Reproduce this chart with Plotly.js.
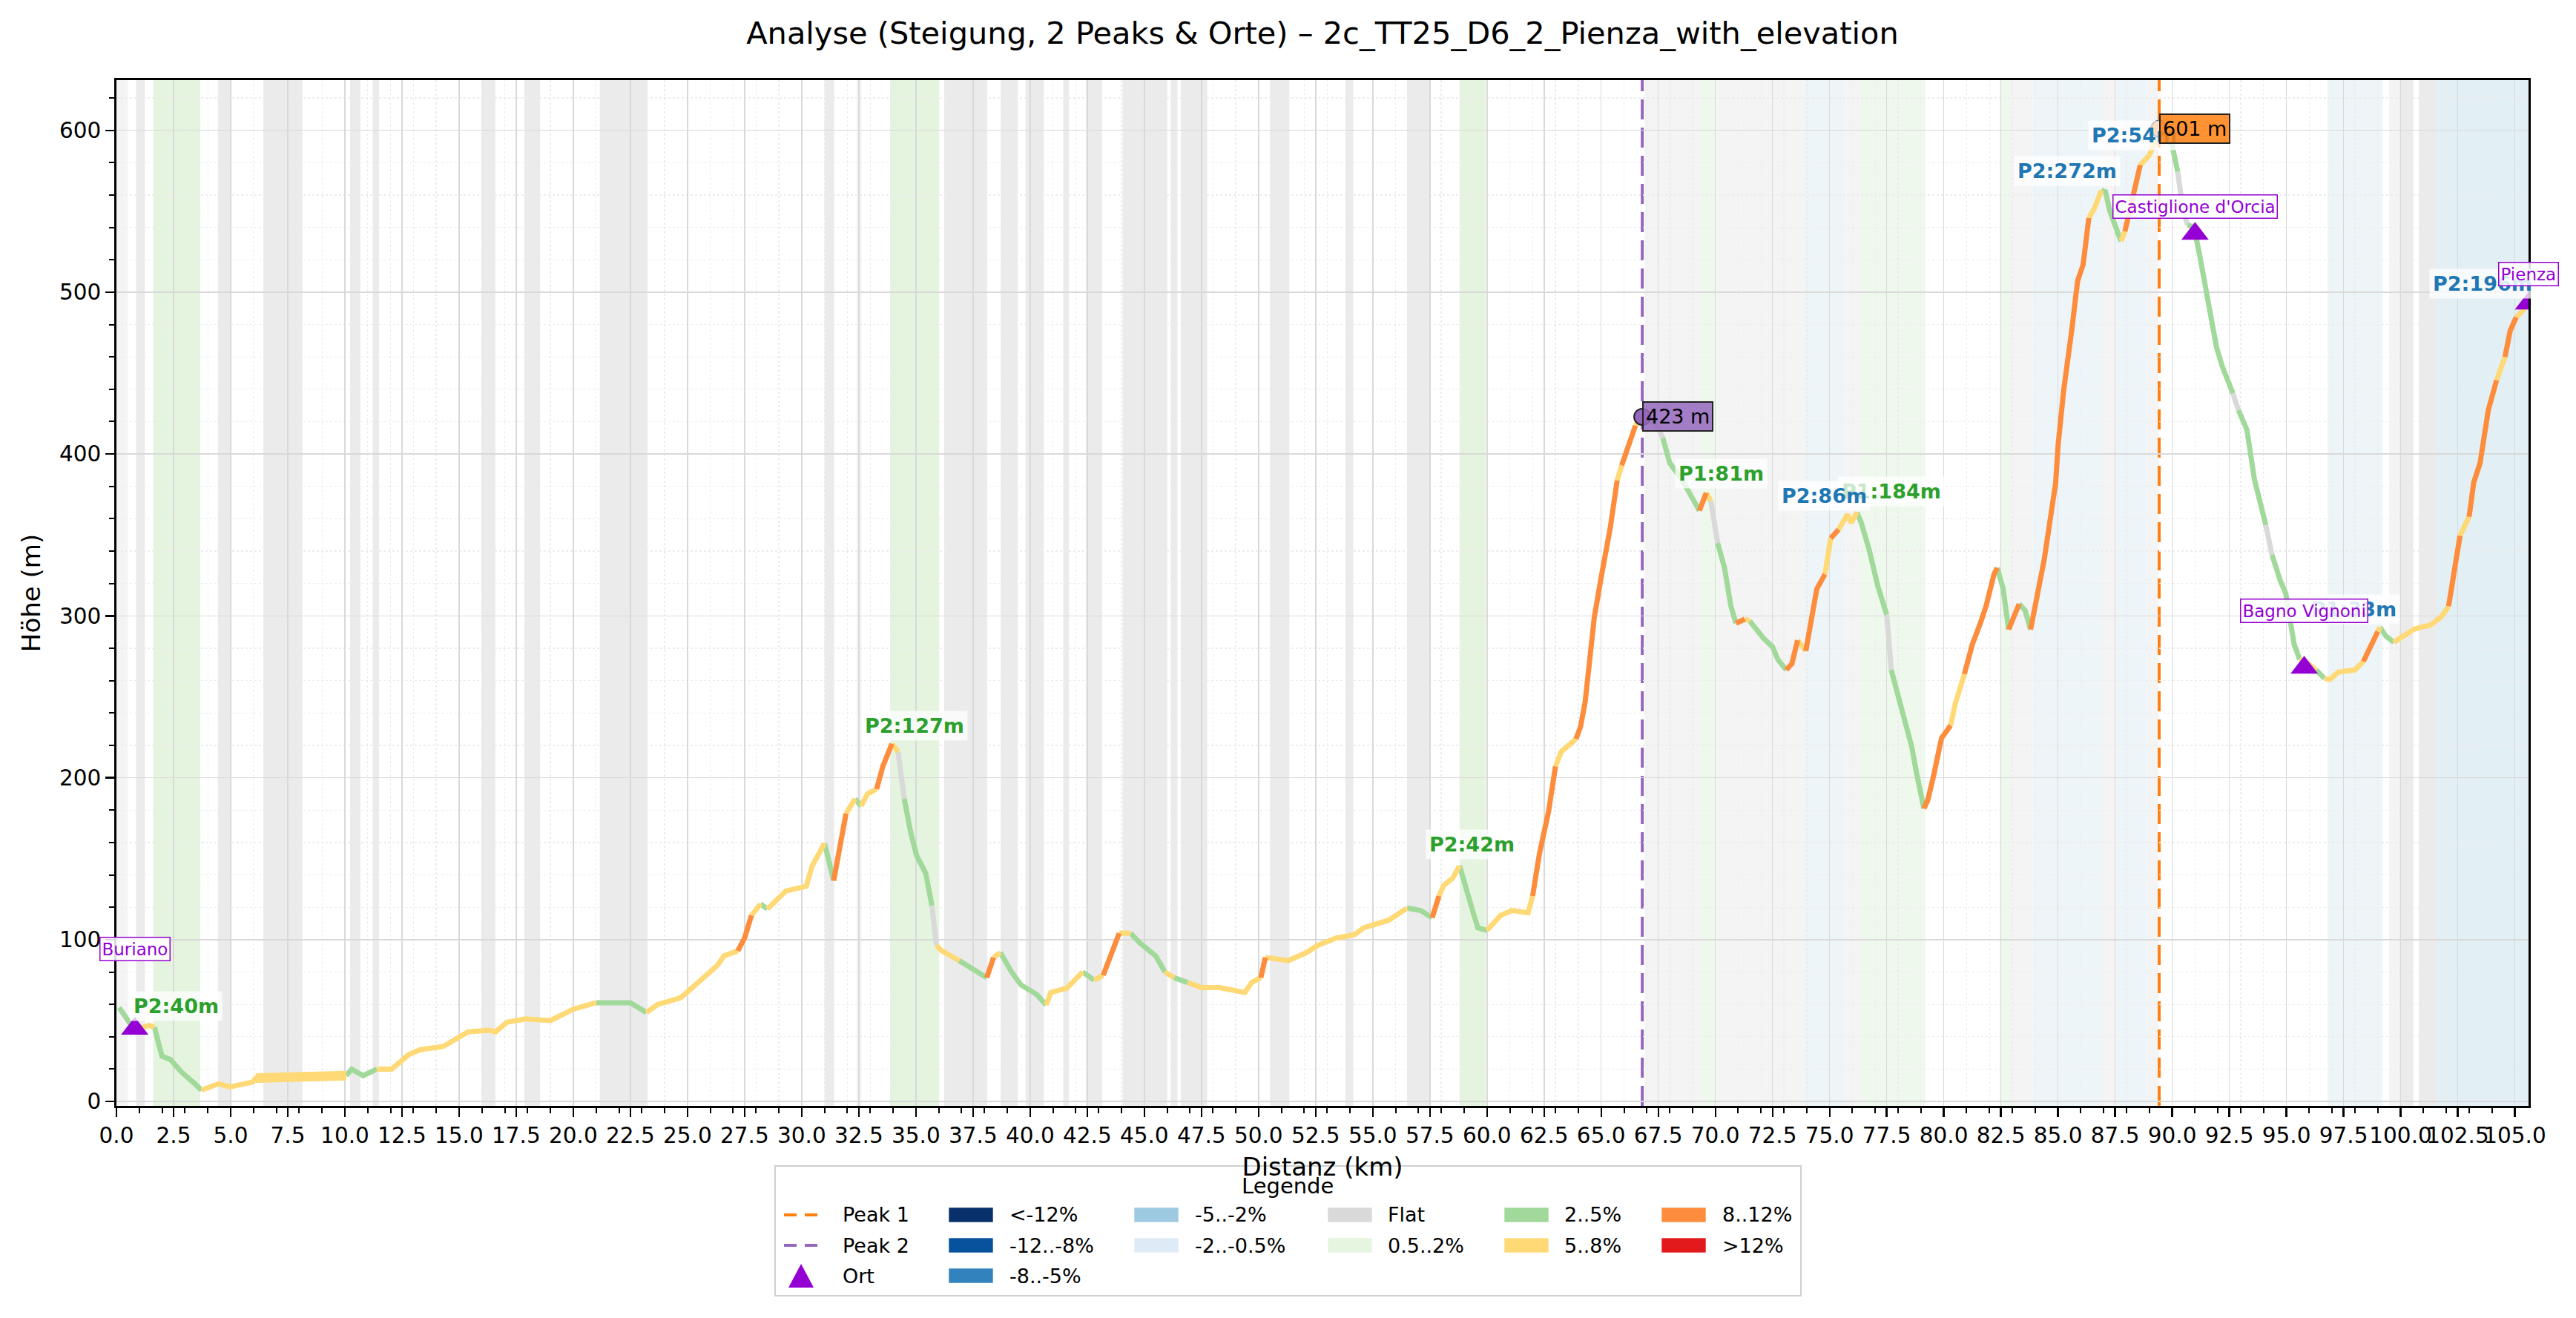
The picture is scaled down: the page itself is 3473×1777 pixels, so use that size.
<!DOCTYPE html>
<html>
<head>
<meta charset="utf-8">
<script src="https://cdn.plot.ly/plotly-3.0.1.min.js"></script>
<style>
  html, body { margin: 0; padding: 0; background: #fff; }
  #chart { width: 3473px; height: 1777px; }
</style>
</head>
<body>
<div id="chart"></div>
<script>
// elevation profile (km, m) and the colour class of each segment
const dist = [0.12, 0.8, 1.42, 1.66, 1.99, 2.36, 2.86, 3.35, 3.73, 4.47, 4.97, 5.96, 6.1, 10.06, 10.3, 10.8, 11.4, 12.05, 12.8, 13.3,
  14.3, 15.0, 15.4, 16.3, 16.6, 17.1, 17.9, 19.0, 20.0, 21.0, 22.5, 23.2, 23.7, 24.7, 25.5, 26.3, 26.6, 27.2, 27.5, 27.8,
  28.2, 28.5, 29.3, 30.2, 30.46, 31.0, 31.4, 31.67, 31.94, 32.34, 32.6, 32.88, 33.28, 33.55, 33.95, 34.22, 34.49, 34.76, 35.03, 35.43,
  35.7, 35.9, 36.1, 36.9, 37.6, 38.1, 38.4, 38.7, 39.2, 39.6, 40.3, 40.7, 40.9, 41.6, 42.3, 42.8, 43.2, 43.5, 43.9, 44.4,
  44.8, 45.5, 45.9, 46.3, 46.9, 47.5, 48.3, 49.4, 49.7, 50.1, 50.3, 51.3, 52.1, 52.6, 53.4, 54.2, 54.6, 55.7, 56.5, 57.1,
  57.6, 57.9, 58.1, 58.5, 58.8, 59.1, 59.4, 59.6, 60.0, 60.6, 61.1, 61.8, 62.0, 62.3, 62.7, 63.0, 63.25, 63.9, 64.1, 64.3,
  64.7, 65.0, 65.4, 65.7, 65.9, 66.2, 66.5, 66.8, 67.4, 67.7, 68.0, 68.5, 69.0, 69.3, 69.6, 69.8, 70.1, 70.4, 70.68, 70.9,
  71.29, 71.5, 71.9, 72.1, 72.5, 72.74, 73.1, 73.35, 73.6, 73.96, 74.2, 74.44, 74.8, 75.05, 75.4, 75.78, 75.95, 76.2, 76.39, 76.75,
  77.1, 77.5, 77.7, 78.0, 78.2, 78.6, 78.8, 79.13, 79.3, 79.55, 79.9, 80.3, 80.5, 80.9, 81.25, 81.6, 81.85, 82.2, 82.34, 82.6,
  82.84, 83.2, 83.3, 83.56, 83.8, 84.16, 84.4, 84.65, 84.9, 85.0, 85.25, 85.6, 85.86, 86.1, 86.35, 86.6, 86.9, 87.08, 87.27, 87.56,
  87.76, 87.93, 88.3, 88.6, 89.0, 89.26, 89.43, 90.0, 90.24, 90.48, 90.67, 90.96, 91.2, 91.45, 91.7, 91.94, 92.2, 92.4, 92.66, 92.9,
  93.27, 93.6, 94.1, 94.37, 94.73, 94.97, 95.2, 95.34, 95.58, 95.82, 96.3, 96.67, 96.9, 97.28, 98.0, 98.37, 98.7, 99.0, 99.1, 99.35,
  99.7, 100.1, 100.56, 100.9, 101.3, 101.78, 102.1, 102.4, 102.6, 103.0, 103.2, 103.48, 103.84, 104.2, 104.57, 104.8, 105.06, 105.35, 105.6];
const elev = [58, 44, 47, 46, 28, 26, 18, 12, 7, 11, 9, 12, 14.5, 16, 20, 16, 20, 20, 29, 32,
  34, 40, 43, 44, 43, 49, 51, 50, 57, 61, 61, 55, 60, 64, 74, 84, 90, 93, 101, 115,
  122, 119, 130, 133, 145.6, 159.5, 136.4, 157.9, 177.9, 187, 182.5, 190, 193, 207, 221, 216, 187, 167, 152, 141,
  121, 96.5, 93.4, 87, 81, 76.5, 89, 92, 79.7, 72, 66, 59.6, 67.3, 70, 80, 75, 78, 90, 104, 104,
  98, 90, 80, 76.5, 73.5, 70.4, 70.4, 67.3, 73.5, 76.5, 89, 87, 92, 96.5, 101, 103, 107.3, 112, 119.5, 118,
  113.5, 127, 133.4, 138, 145.6, 130, 116.6, 107.3, 105.7, 115, 118, 116.6, 127, 153.3, 179.4, 207, 216, 224, 231.7, 247,
  299.2, 323.8, 354.5, 383.7, 393, 405, 417.5, 423, 419, 410, 394.5, 385, 373, 365, 376, 371, 345, 329.7, 306, 295.5,
  298, 296.9, 289, 286.3, 281, 273, 266.6, 270.5, 285, 278.4, 298, 316.6, 325.8, 348, 353.4, 362.6, 357.4, 364, 357.4, 340,
  319, 300.8, 266.6, 250.8, 240, 219, 203.4, 181, 186.3, 201, 224.5, 232.4, 245.5, 264, 282.4, 295.5, 306, 325.8, 329.7, 316.6,
  291.6, 303.4, 307.4, 303.4, 291.6, 316.6, 335, 358.7, 382.4, 404.7, 439.5, 476.3, 507, 517, 545.8, 552, 563, 562, 550, 539.7,
  531.5, 537.6, 560, 578.5, 584.7, 592.8, 601, 590.8, 574.4, 550, 541.7, 539.7, 523, 505, 486.5, 466, 453.8, 445.6, 437.4, 427.2,
  415, 384.3, 356, 337.7, 321.8, 314, 295.5, 282.4, 273, 271.9, 266.6, 261.3, 260.8, 265.3, 266.6, 271.9, 282.4, 290.3, 293, 287.6,
  283.7, 287.6, 291.6, 293, 294.2, 299.5, 306, 331, 349.5, 361.3, 382.4, 394.5, 427.2, 445.6, 460, 476.3, 484.5, 488.6, 494];
// f = Flat, l = 0.5..2%, g = 2..5%, y = 5..8%, o = 8..12%
const grade = ['g','y','y','g','g','g','g','g','y','y','y','y','y','g','g','g','y','y','y','y',
  'y','y','y','y','y','y','y','y','y','g','g','y','y','y','y','y','y','o','o','y',
  'g','y','y','y','y','g','o','o','y','g','y','y','o','o','y','f','g','g','g','g',
  'f','y','y','g','g','o','y','g','g','g','g','y','y','y','g','y','o','o','y','g',
  'g','g','y','g','y','y','y','y','y','o','y','y','y','y','y','y','y','y','g','g',
  'o','y','y','y','g','g','g','g','y','y','y','y','o','o','o','y','y','o','o','o',
  'o','o','o','y','o','o','y','g','f','g','g','g','g','o','y','f','g','g','g','o',
  'y','g','g','g','g','g','o','o','y','o','o','o','y','o','y','y','y','g','g','g',
  'g','f','g','g','g','g','g','o','o','o','o','y','y','o','o','o','o','o','g','g',
  'o','o','g','g','o','o','o','o','o','o','o','o','o','o','y','y','g','g','g','g',
  'y','o','o','y','y','y','g','g','f','f','g','g','g','g','g','g','g','g','f','g',
  'g','g','f','g','g','g','g','g','y','y','g','y','y','y','y','o','o','y','g','g',
  'y','y','y','y','y','y','o','o','y','o','o','o','o','y','o','o','y','y'];
// stretch where the recorded track is a thick noisy band
const noisyFrom = 6.1, noisyTo = 10.06;

// background bands (km) and their class
const bandStart = [0, 0.86, 1.61, 4.44, 6.43, 10.23, 11.22, 15.97, 17.86, 21.16, 31.0, 32.4, 33.87, 36.24, 38.71, 39.8, 41.45,
  42.45, 44.05, 46.15, 46.6, 50.5, 53.8, 56.5, 58.8, 66.9, 69.3, 70.1, 73.9, 75.7, 76.3, 82.45, 82.9, 83.9, 86.95, 87.55,
  88.9, 96.8, 99.5, 99.95, 100.8, 101.6];
const bandEnd = [0.5, 1.24, 3.67, 5.01, 8.14, 10.68, 11.49, 16.59, 18.55, 23.25, 31.42, 32.62, 36.02, 38.12, 39.46, 40.6, 41.7,
  43.15, 46.0, 46.45, 47.75, 51.35, 54.15, 57.5, 59.95, 69.3, 70.1, 73.9, 75.7, 76.3, 79.2, 82.9, 83.9, 86.95, 87.55, 88.9,
  89.4, 99.2, 99.95, 100.55, 101.6, 105.6];
const bandKind = ['flatL','flat','up','flat','flat','flat','flat','flat','flat','flat','flat','flatL','up','flat','flat','flat','flat',
  'flat','flat','flat','flat','flat','flat','flat','up','flatL','upL','flatL','down','flatL','upL','upL','flatL','down','flatL','down',
  'flatL','down','flatL','flat','flat','down2'];

// peaks
const peakNames = ['Peak 1', 'Peak 2'];
const peakX = [89.43, 66.8];
const peakY = [601, 423];
const peakText = ['601 m', '423 m'];

// places
const ortNames = ['Buriano', "Castiglione d'Orcia", 'Bagno Vignoni', 'Pienza'];
const ortX = [0.8, 91.0, 95.78, 105.6];
const ortY = [45, 536, 268, 493];
const ortLabelY = [94, 553, 303, 511];

// climb labels (drawn in this order, later ones on top)
const climbText = ['P2:40m', 'P2:127m', 'P2:42m', 'P1:81m', 'P1:184m', 'P2:86m', 'P2:272m', 'P2:54m', 'P2:196m', 'P1:33m'];
const climbX = [2.6, 34.95, 59.35, 70.26, 77.7, 74.76, 85.4, 88.34, 103.6, 97.96];
const climbY = [59, 232, 159, 388, 377, 374, 575, 597, 505, 304];
const climbKind = ['g', 'g', 'g', 'g', 'g', 'b', 'b', 'b', 'b', 'b'];

// legend
const legendLabels = [['Peak 1', 'Peak 2', 'Ort'], ['<-12%', '-12..-8%', '-8..-5%'], ['-5..-2%', '-2..-0.5%'],
  ['Flat', '0.5..2%'], ['2..5%', '5..8%'], ['8..12%', '>12%']];
const legendSwatch = [[], ['#08306b', '#08519c', '#3182bd'], ['#9ecae1', '#deebf7'], ['#d9d9d9', '#e5f5e0'],
  ['#a1d99b', '#fed976'], ['#fd8d3c', '#e31a1c']];

const gradeColors = { f: '#d9d9d9', l: '#e5f5e0', g: '#a1d99b', y: '#fed976', o: '#fd8d3c' };
const bandColors = { flat: '#ebebeb', flatL: '#f4f4f4', up: '#e4f4df', upL: '#eff8ec', down: '#edf5f9', down2: '#e2eff4' };
const peakColors = ['#ff7f0e', '#9467bd'];
const peakBg = ['rgba(255,127,14,0.85)', 'rgba(148,103,189,0.85)'];
const climbColors = { g: '#2ca02c', b: '#1f77b4' };
const ORT = '#9400d3';
const FONT = 'DejaVu Sans';

const W = 3473, H = 1777;
const M = { l: 157, r: 64, t: 108, b: 286 };
const PW = W - M.l - M.r, PH = H - M.t - M.b;
const px = x => (x - M.l) / PW;
const py = y => (M.t + PH - y) / PH;

const traces = [];

// profile, one trace per grade class with gaps between runs
['f', 'l', 'g', 'y', 'o'].forEach(cls => {
  const xs = [], ys = [];
  for (let i = 0; i < dist.length - 1; i++) {
    if (grade[i] !== cls) continue;
    if (i === 0 || grade[i - 1] !== cls) {
      if (xs.length) { xs.push(null); ys.push(null); }
      xs.push(dist[i]); ys.push(elev[i]);
    }
    xs.push(dist[i + 1]); ys.push(elev[i + 1]);
  }
  traces.push({
    x: xs, y: ys, type: 'scatter', mode: 'lines', hoverinfo: 'skip', showlegend: false,
    line: { color: gradeColors[cls], width: 7 }
  });
});

// noisy stretch
const nx = [], ny = [];
dist.forEach((d, i) => { if (d >= noisyFrom && d <= noisyTo) { nx.push(d); ny.push(elev[i]); } });
traces.push({
  x: nx, y: ny, type: 'scatter', mode: 'lines', hoverinfo: 'skip', showlegend: false,
  line: { color: gradeColors.y, width: 13 }
});

// places
traces.push({
  x: ortX, y: ortY, type: 'scatter', mode: 'markers', showlegend: false,
  marker: { symbol: 'triangle-up', size: 32, color: ORT }
});

// peak markers
traces.push({
  x: peakX, y: peakY, type: 'scatter', mode: 'markers', showlegend: false,
  marker: { symbol: 'circle', size: 22, color: peakColors, line: { color: '#222', width: 2 } }
});

const shapes = [];
bandStart.forEach((s, i) => {
  shapes.push({
    type: 'rect', xref: 'x', yref: 'paper', x0: s, x1: bandEnd[i], y0: 0, y1: 1,
    fillcolor: bandColors[bandKind[i]], line: { width: 0 }, layer: 'below'
  });
});
peakX.forEach((x, i) => {
  shapes.push({
    type: 'line', xref: 'x', yref: 'paper', x0: x, x1: x, y0: 0, y1: 1,
    line: { color: peakColors[i], width: 4, dash: '27px,11px' }, layer: 'below'
  });
});

const annotations = [];
climbText.forEach((t, i) => {
  annotations.push({
    x: climbX[i], y: climbY[i], xref: 'x', yref: 'y', text: '<b>' + t + '</b>', showarrow: false,
    font: { family: FONT, size: 27, color: climbColors[climbKind[i]] },
    bgcolor: 'rgba(255,255,255,0.75)', borderpad: 4
  });
});
ortNames.forEach((n, i) => {
  annotations.push({
    x: ortX[i], y: ortLabelY[i], xref: 'x', yref: 'y', text: n, showarrow: false,
    font: { family: FONT, size: 23, color: ORT },
    bgcolor: 'rgba(255,255,255,0.85)', bordercolor: ORT, borderwidth: 1.5, borderpad: 2
  });
});
peakText.forEach((t, i) => {
  annotations.push({
    x: peakX[i], y: peakY[i], xref: 'x', yref: 'y', text: t, showarrow: false,
    xanchor: 'left', yanchor: 'middle',
    font: { family: FONT, size: 27, color: '#000' },
    bgcolor: peakBg[i], bordercolor: '#222', borderwidth: 2, borderpad: 3
  });
});

// legend drawn by hand, column by column
shapes.push({
  type: 'rect', xref: 'paper', yref: 'paper', x0: px(1045), x1: px(2428), y0: py(1572), y1: py(1747),
  fillcolor: 'rgba(255,255,255,0.8)', line: { color: '#d0d0d0', width: 2 }, layer: 'above'
});
annotations.push({
  x: px(1736), y: py(1599), xref: 'paper', yref: 'paper', text: 'Legende', showarrow: false,
  xanchor: 'center', yanchor: 'middle',
  font: { family: FONT, size: 29, color: '#000' }
});
const colHandle = [1057, 1279, 1529, 1790, 2028, 2240];
const colText = [1134, 1359, 1609, 1869, 2107, 2320];
const rowY = [1638, 1679, 1720];
legendLabels.forEach((col, c) => {
  col.forEach((lab, r) => {
    annotations.push({
      x: px(colText[c]), y: py(rowY[r]), xref: 'paper', yref: 'paper', text: lab, showarrow: false,
      xanchor: 'left', yanchor: 'middle', font: { family: FONT, size: 27, color: '#000' }
    });
    if (c === 0 && r < 2) {
      shapes.push({
        type: 'line', xref: 'paper', yref: 'paper', x0: px(colHandle[0]), x1: px(colHandle[0] + 46),
        y0: py(rowY[r]), y1: py(rowY[r]), line: { color: peakColors[r], width: 4, dash: '17px,11px' }, layer: 'above'
      });
    } else if (c === 0) {
      const cx = colHandle[0] + 23, cy = rowY[r];
      shapes.push({
        type: 'path', xref: 'paper', yref: 'paper', fillcolor: ORT, line: { width: 0 }, layer: 'above',
        path: 'M' + px(cx - 17) + ',' + py(cy + 16) + ' L' + px(cx + 17) + ',' + py(cy + 16) +
          ' L' + px(cx) + ',' + py(cy - 16) + ' Z'
      });
    } else {
      shapes.push({
        type: 'rect', xref: 'paper', yref: 'paper', x0: px(colHandle[c]), x1: px(colHandle[c] + 60),
        y0: py(rowY[r] + 10), y1: py(rowY[r] - 10), fillcolor: legendSwatch[c][r],
        line: { color: 'rgba(255,255,255,0.6)', width: 1 }, layer: 'above'
      });
    }
  });
});

const axisCommon = {
  showline: true, mirror: true, linecolor: '#000', linewidth: 2.7, zeroline: false,
  ticks: 'outside', ticklen: 12, tickwidth: 2.3, tickcolor: '#000',
  showgrid: true, gridcolor: '#d9d9d9', gridwidth: 1.6,
  tickfont: { family: FONT, size: 29.5, color: '#000' }
};

const layout = {
  width: W, height: H,
  margin: M,
  paper_bgcolor: '#fff', plot_bgcolor: '#fff',
  showlegend: false,
  font: { family: FONT, color: '#000' },
  title: {
    text: 'Analyse (Steigung, 2 Peaks & Orte) – 2c_TT25_D6_2_Pienza_with_elevation',
    font: { family: FONT, size: 41.5, color: '#000' },
    x: 0.5, xref: 'paper', y: 1 - 44 / H, yref: 'container', yanchor: 'middle'
  },
  xaxis: Object.assign({}, axisCommon, {
    range: [0, 105.6], tick0: 0, dtick: 2.5, tickformat: '.1f', tickangle: 0,
    minor: { dtick: 1, tick0: 0, ticks: 'outside', ticklen: 7, tickwidth: 2, tickcolor: '#000',
      showgrid: true, gridcolor: '#ececec', griddash: 'dot', gridwidth: 1.3 },
    title: { text: 'Distanz (km)', font: { family: FONT, size: 34, color: '#000' }, standoff: 14 }
  }),
  yaxis: Object.assign({}, axisCommon, {
    range: [-2.7, 631], tick0: 0, dtick: 100,
    minor: { dtick: 20, tick0: 0, ticks: 'outside', ticklen: 7, tickwidth: 2, tickcolor: '#000',
      showgrid: true, gridcolor: '#ececec', griddash: 'dot', gridwidth: 1.3 },
    title: { text: 'Höhe (m)', font: { family: FONT, size: 34, color: '#000' }, standoff: 16 }
  }),
  shapes: shapes,
  annotations: annotations
};

Plotly.newPlot('chart', traces, layout, { displayModeBar: false, staticPlot: true });
</script>
</body>
</html>
